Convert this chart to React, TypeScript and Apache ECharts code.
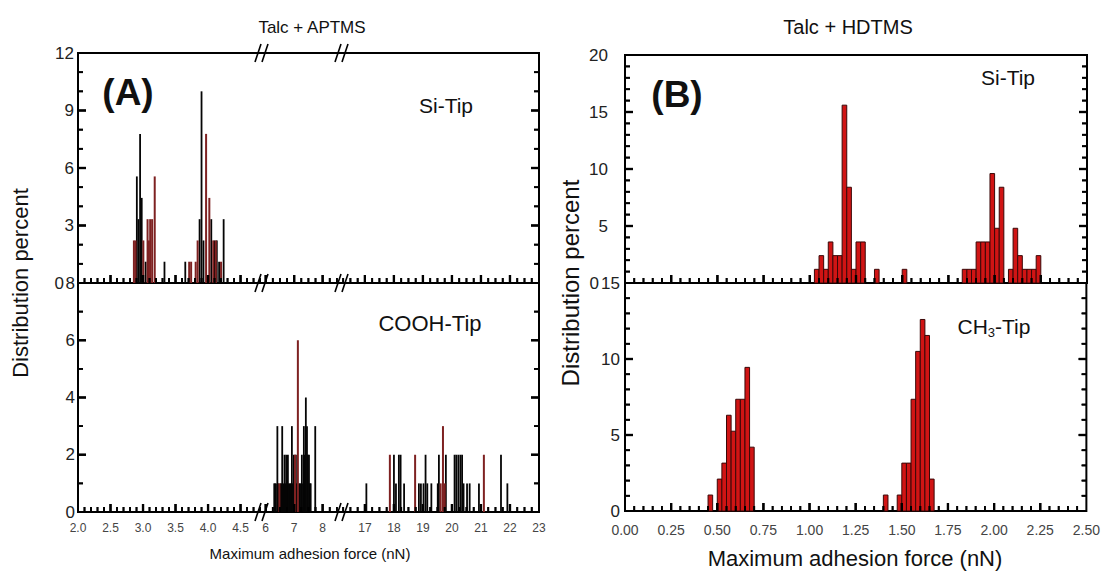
import React, { useEffect, useRef } from 'react';
import * as echarts from 'echarts';

// ================= DATA =================
// Panel A (Talc + APTMS) – Si-Tip : [force nN, distribution %]
const aSiTipBlack: number[][] = [
  [2.905, 5.56], [2.93, 3.33], [2.955, 7.78], [2.98, 4.44], [3.04, 1.11], [3.33, 1.11], [3.65, 1.11],
  [3.87, 3.33], [3.90, 10.0], [3.93, 2.22], [4.05, 3.33], [4.10, 2.22], [4.135, 2.22], [4.17, 1.11], [4.24, 3.33],
];
const aSiTipRed: number[][] = [
  [2.86, 2.22], [2.885, 2.22], [3.005, 2.22], [3.07, 3.33], [3.09, 2.22], [3.11, 3.33],
  [3.14, 3.33], [3.18, 5.56], [3.71, 1.11], [3.74, 1.11], [3.81, 1.11], [3.84, 2.22],
  [3.97, 7.78], [4.02, 4.44], [4.08, 2.22], [4.12, 2.22], [4.20, 1.11],
];
// Panel A – COOH-Tip
const aCoohBlack: number[][] = [
  [6.30, 1], [6.33, 1], [6.36, 1], [6.41, 3], [6.44, 1], [6.52, 1], [6.55, 1], [6.58, 3], [6.62, 1],
  [6.66, 2], [6.69, 1], [6.72, 2], [6.75, 1], [6.78, 2], [6.81, 1], [6.85, 1], [6.88, 1], [6.92, 3],
  [6.95, 1], [6.99, 2], [7.06, 2], [7.09, 1], [7.17, 1], [7.20, 1], [7.24, 1], [7.27, 2], [7.31, 1],
  [7.34, 3], [7.37, 2], [7.41, 4], [7.45, 3], [7.48, 2], [7.52, 2], [7.55, 1], [7.58, 1], [7.74, 3],
  [17.05, 1], [18.00, 2], [18.07, 1], [18.17, 2], [18.23, 2], [18.35, 1], [18.86, 1], [18.93, 1],
  [19.02, 1], [19.09, 2], [19.15, 1], [19.29, 1], [19.51, 1], [19.55, 2], [19.79, 2], [20.09, 2],
  [20.15, 2], [20.22, 2], [20.29, 2], [20.35, 2], [20.40, 1], [20.52, 1], [20.61, 1], [20.93, 1],
  [21.69, 2], [21.91, 1],
];
const aCoohRed: number[][] = [
  [6.48, 1], [7.03, 2], [7.13, 6], [17.86, 2], [18.73, 2], [19.61, 1], [19.69, 3], [19.75, 1], [21.10, 2],
];

// Panel B (Talc + HDTMS) – histogram bins [bin start nN, distribution %]
const binWidthB = 0.025;
const bSiTip: number[][] = [
  [1.025, 1.2], [1.05, 2.4], [1.075, 1.2], [1.10, 3.6], [1.125, 2.4], [1.15, 2.4], [1.175, 15.6],
  [1.20, 8.4], [1.225, 1.2], [1.25, 3.6], [1.275, 3.6], [1.35, 1.2], [1.50, 1.2], [1.825, 1.2],
  [1.85, 1.2], [1.875, 1.2], [1.90, 3.6], [1.925, 3.6], [1.95, 3.6], [1.975, 9.6], [2.00, 4.8],
  [2.025, 8.4], [2.075, 1.2], [2.10, 4.8], [2.125, 2.4], [2.15, 1.2], [2.175, 1.2], [2.20, 1.2], [2.225, 2.4],
];
const bCh3Tip: number[][] = [
  [0.45, 1.05], [0.50, 2.1], [0.525, 3.15], [0.55, 6.3], [0.575, 5.25], [0.60, 7.35], [0.625, 7.35],
  [0.65, 9.45], [0.675, 4.2], [1.40, 1.05], [1.475, 1.05], [1.50, 3.15], [1.525, 3.15], [1.55, 7.35],
  [1.575, 10.5], [1.60, 12.6], [1.625, 11.55], [1.65, 2.1],
];

// Axis tick labels / ranges
const aSegMajor: number[][] = [[2.0, 2.5, 3.0, 3.5, 4.0, 4.5], [6, 7, 8], [17, 18, 19, 20, 21, 22, 23]];
const aSegExtent: number[][] = [[2.0, 4.83], [5.87, 8.68], [16.21, 23]];
const aSegMinorStep = [0.1, 0.25, 0.25];
const aTopY = { min: 0, max: 12, interval: 3, minor: 3 };
const aBotY = { min: 0, max: 8, interval: 2, minor: 2 };
const bTopY = { min: 0, max: 20, interval: 5, minor: 5 };
const bBotY = { min: 0, max: 15, interval: 5, minor: 5 };
const bX = { min: 0, max: 2.5, interval: 0.25, minor: 5 };

// ================= LAYOUT =================
const FONT = '"Liberation Sans", Arial, Helvetica, sans-serif';
const A_L = 78, A_R = 539, A_T = 53, A_M = 283, A_B = 512;
const A_SEG_PX = [[78, 262], [262, 342], [342, 539]];
const A_BREAKS = [262, 342];
const B_L = 625, B_R = 1087, B_T = 55, B_M = 283, B_B = 511;
const MAJ_LEN = 8, MIN_LEN = 5;
const MAJ_W = 2.2, MIN_W = 1.8;

const GRID_BOX: number[][] = [
  [A_L, A_T, A_R, A_M], [A_L, A_M, A_R, A_B], [B_L, B_T, B_R, B_M], [B_L, B_M, B_R, B_B],
  ...[[A_T, A_M], [A_M, A_B]].flatMap(([t, b]) => A_SEG_PX.map(([l, r]) => [l, t, r, b])),
];

const near = (a: number, b: number) => Math.abs(a - b) < 1e-6;

function minorValues(seg: number) {
  const [mn, mx] = aSegExtent[seg];
  const step = aSegMinorStep[seg];
  const out: number[] = [];
  for (let k = Math.ceil(mn / step - 1e-9); k * step <= mx + 1e-9; k++) {
    const v = +(k * step).toFixed(4);
    if (!aSegMajor[seg].some((m) => near(m, v))) out.push(v);
  }
  return out;
}

function rangeTicks(r: { min: number; max: number; interval: number; minor: number }) {
  const step = r.interval / r.minor;
  const maj: number[] = [], mnr: number[] = [];
  const n = Math.round((r.max - r.min) / step);
  for (let k = 1; k < n; k++) {
    const v = +(r.min + k * step).toFixed(4);
    if (k % r.minor === 0) maj.push(v); else mnr.push(v);
  }
  return [maj, mnr];
}

type TickSpec = { kind: 'x' | 'yl' | 'yr'; g: number; values: number[]; range: number[]; xr: number[]; len: number; w: number };

function tickSpecs(): TickSpec[] {
  const out: TickSpec[] = [];
  const yPair = (g: number, r: any, xr: number[]) => {
    const [maj, mnr] = rangeTicks(r);
    for (const kind of ['yl', 'yr'] as const) {
      out.push({ kind, g, values: maj, range: [r.min, r.max], xr, len: MAJ_LEN, w: MAJ_W });
      out.push({ kind, g, values: mnr, range: [r.min, r.max], xr, len: MIN_LEN, w: MIN_W });
    }
  };
  yPair(0, aTopY, [0, 1]);
  yPair(1, aBotY, [0, 1]);
  yPair(2, bTopY, [bX.min, bX.max]);
  yPair(3, bBotY, [bX.min, bX.max]);
  const [xmaj, xmnr] = rangeTicks(bX);
  for (const g of [2, 3]) {
    out.push({ kind: 'x', g, values: xmaj, range: [bX.min, bX.max], xr: [0, 0], len: MAJ_LEN, w: MAJ_W });
    out.push({ kind: 'x', g, values: xmnr, range: [bX.min, bX.max], xr: [0, 0], len: MIN_LEN, w: MIN_W });
  }
  for (let p = 0; p < 2; p++) {
    for (let s = 0; s < 3; s++) {
      const g = 4 + p * 3 + s;
      const [mn, mx] = aSegExtent[s];
      out.push({ kind: 'x', g, values: aSegMajor[s].filter((v) => !near(v, mn) && !near(v, mx)), range: [mn, mx], xr: [0, 0], len: MAJ_LEN, w: MAJ_W });
      out.push({ kind: 'x', g, values: minorValues(s), range: [mn, mx], xr: [0, 0], len: MIN_LEN, w: MIN_W });
    }
  }
  return out;
}

// tick marks as a custom series on the grid's own axes
function tickSeries(t: TickSpec) {
  const edge = t.kind === 'x' ? 0 : t.kind === 'yl' ? t.xr[0] : t.xr[1];
  const data = t.values.map((v) => (t.kind === 'x' ? [v, edge] : [edge, v]));
  return {
    type: 'custom', xAxisIndex: t.g, yAxisIndex: t.g, data, encode: { x: 0, y: 1 }, z: 8,
    renderItem: (_p: any, api: any) => {
      const p = api.coord([api.value(0), api.value(1)]);
      let shape;
      if (t.kind === 'x') shape = { x: p[0] - t.w / 2, y: p[1] - t.len, width: t.w, height: t.len };
      else if (t.kind === 'yl') shape = { x: p[0], y: p[1] - t.w / 2, width: t.len, height: t.w };
      else shape = { x: p[0] - t.len, y: p[1] - t.w / 2, width: t.len, height: t.w };
      return { type: 'rect', shape, style: { fill: '#000' } };
    },
  };
}

function spikeSeries(data: number[][], xi: number, yi: number, color: string, w: number) {
  return {
    type: 'custom', xAxisIndex: xi, yAxisIndex: yi, data, encode: { x: 0, y: 1 }, z: 3,
    renderItem: (_p: any, api: any) => {
      const x = api.value(0), y = api.value(1);
      const top = api.coord([x, y]);
      const base = api.coord([x, 0]);
      return { type: 'rect', shape: { x: top[0] - w / 2, y: top[1], width: w, height: base[1] - top[1] }, style: { fill: color } };
    },
  };
}

function histSeries(bins: number[][], xi: number, yi: number) {
  const data = bins.map(([s, v]) => [s, +(s + binWidthB).toFixed(4), v]);
  return {
    type: 'custom', xAxisIndex: xi, yAxisIndex: yi, data, encode: { x: [0, 1], y: 2 }, z: 3,
    renderItem: (_p: any, api: any) => {
      const p0 = api.coord([api.value(0), api.value(2)]);
      const p1 = api.coord([api.value(1), 0]);
      return {
        type: 'rect',
        shape: { x: p0[0], y: p0[1], width: p1[0] - p0[0], height: p1[1] - p0[1] },
        style: { fill: '#d01414', stroke: '#3a0808', lineWidth: 1 },
      };
    },
  };
}

function frameY(gi: number, r: any, margin: number, fontSize: number, zeroPad: number) {
  return {
    type: 'value', gridIndex: gi, min: r.min, max: r.max, interval: r.interval, position: 'left',
    axisLine: { show: false }, splitLine: { show: false }, axisTick: { show: false },
    axisLabel: {
      show: true, margin, fontSize, color: '#222', fontFamily: FONT,
      formatter: (v: number) => (v === 0 && zeroPad > 0 ? '{z|0}' : String(v)),
      rich: { z: { fontSize, fontFamily: FONT, color: '#222', padding: [0, zeroPad, 0, 0] } },
    },
  };
}

function baseGraphic() {
  const graphic: any[] = [];
  const txt = (x: number, y: number, text: string, size: number, extra: any = {}) => ({
    type: 'text', x, y, z: 10,
    style: { text, fontSize: size, fontFamily: FONT, fill: '#111', align: 'center', verticalAlign: 'middle', ...extra.style },
    ...extra.el,
  });
  graphic.push(txt(312, 27, 'Talc + APTMS', 17));
  graphic.push(txt(848, 27, 'Talc + HDTMS', 20));
  graphic.push(txt(128, 92, '(A)', 37, { style: { fontWeight: 'bold' } }));
  graphic.push(txt(677, 94, '(B)', 37, { style: { fontWeight: 'bold' } }));
  graphic.push(txt(446, 105, 'Si-Tip', 21));
  graphic.push(txt(430, 323, 'COOH-Tip', 22));
  graphic.push(txt(1008, 77, 'Si-Tip', 21));
  graphic.push(txt(994, 326, 'CH{sub|3}-Tip', 21, {
    style: { rich: { sub: { fontSize: 13, lineHeight: 12, verticalAlign: 'bottom', fontFamily: FONT, fill: '#111' } }, lineHeight: 26 },
  }));
  graphic.push(txt(20, 283, 'Distribution percent', 22, { el: { rotation: Math.PI / 2 } }));
  graphic.push(txt(570, 283, 'Distribution percent', 24, { el: { rotation: Math.PI / 2 } }));
  graphic.push(txt(310, 553, 'Maximum adhesion force (nN)', 15));
  graphic.push(txt(855, 558, 'Maximum adhesion force (nN)', 22));

  for (const bx of A_BREAKS) {
    for (const by of [A_T, A_M, A_B]) {
      for (const dx of [-4, 3]) {
        graphic.push({
          type: 'line', z: 12,
          shape: { x1: bx + dx - 3, y1: by + 9, x2: bx + dx + 3, y2: by - 9 },
          style: { stroke: '#000', lineWidth: 1.6 },
        });
      }
    }
  }
  return graphic;
}

function buildOption() {
  const grid: any[] = [];
  const xAxis: any[] = [];
  const yAxis: any[] = [];
  const series: any[] = [];

  GRID_BOX.forEach(([l, t, r, b], i) => {
    grid.push({
      left: l, top: t, width: r - l, height: b - t, show: i < 4, borderColor: '#000', borderWidth: 2,
      backgroundColor: 'transparent',
    });
  });

  xAxis.push({ type: 'value', gridIndex: 0, min: 0, max: 1, show: false }); // 0
  xAxis.push({ type: 'value', gridIndex: 1, min: 0, max: 1, show: false }); // 1
  const bAxis = (gi: number, labels: boolean) => ({
    type: 'value', gridIndex: gi, min: bX.min, max: bX.max, interval: bX.interval, position: 'bottom',
    axisLine: { show: false }, splitLine: { show: false }, axisTick: { show: false },
    axisLabel: { show: labels, margin: 12, fontSize: 14, color: '#444', fontFamily: FONT, formatter: (v: number) => v.toFixed(2) },
  });
  xAxis.push(bAxis(2, false)); // 2
  xAxis.push(bAxis(3, true)); // 3
  for (let p = 0; p < 2; p++) {
    for (let s = 0; s < 3; s++) {
      xAxis.push({
        type: 'value', gridIndex: 4 + p * 3 + s, min: aSegExtent[s][0], max: aSegExtent[s][1], position: 'bottom',
        axisLine: { show: false }, splitLine: { show: false }, axisTick: { show: false },
        axisLabel: {
          show: p === 1, customValues: aSegMajor[s], margin: 10, fontSize: 12, color: '#444', fontFamily: FONT,
          formatter: (v: number) => (s === 0 ? v.toFixed(1) : String(Math.round(v))),
        },
      }); // 4..9
    }
  }

  yAxis.push(frameY(0, aTopY, 4, 17, 10)); // 0
  yAxis.push(frameY(1, aBotY, 3, 17, 0)); // 1
  yAxis.push(frameY(2, bTopY, 17, 17, 9)); // 2
  yAxis.push(frameY(3, bBotY, 5, 17, 0)); // 3
  for (let p = 0; p < 2; p++) {
    for (let s = 0; s < 3; s++) {
      const r = p === 0 ? aTopY : aBotY;
      yAxis.push({ type: 'value', gridIndex: 4 + p * 3 + s, min: r.min, max: r.max, show: false }); // 4..9
    }
  }

  series.push(histSeries(bSiTip, 2, 2));
  series.push(histSeries(bCh3Tip, 3, 3));
  const panels = [[aSiTipBlack, aSiTipRed], [aCoohBlack, aCoohRed]];
  for (let p = 0; p < 2; p++) {
    for (let s = 0; s < 3; s++) {
      const [mn, mx] = aSegExtent[s];
      const inSeg = (d: number[]) => d[0] >= mn && d[0] <= mx;
      const g = 4 + p * 3 + s;
      series.push(spikeSeries(panels[p][0].filter(inSeg), g, g, '#050505', 1.8));
      series.push(spikeSeries(panels[p][1].filter(inSeg), g, g, '#7e2121', 2));
    }
  }
  for (const t of tickSpecs()) series.push(tickSeries(t));

  return { animation: false, backgroundColor: '#fff', grid, xAxis, yAxis, series, graphic: baseGraphic() };
}

function axisPixel(chart: any, t: TickSpec, v: number): number {
  const finder = t.kind === 'x' ? { xAxisIndex: t.g } : { yAxisIndex: t.g };
  let px: any = null;
  try { px = chart.convertToPixel(finder, v); } catch (e) { px = null; }
  if (Array.isArray(px)) px = t.kind === 'x' ? px[0] : px[1];
  if (typeof px === 'number' && isFinite(px)) return px;
  const [l, tp, r, b] = GRID_BOX[t.g];
  const f = (v - t.range[0]) / (t.range[1] - t.range[0]);
  return t.kind === 'x' ? l + f * (r - l) : b - f * (b - tp);
}

export default function App() {
  const ref = useRef<HTMLDivElement>(null);
  useEffect(() => {
    const chart = echarts.init(ref.current!, null, { renderer: 'svg' });
    chart.setOption(buildOption() as any);
    const ticks: any[] = [];
    for (const t of tickSpecs()) {
      const [l, , r, b] = GRID_BOX[t.g];
      for (const v of t.values) {
        const q = axisPixel(chart, t, v);
        let shape;
        if (t.kind === 'x') shape = { x1: q, y1: b, x2: q, y2: b - t.len };
        else if (t.kind === 'yl') shape = { x1: l, y1: q, x2: l + t.len, y2: q };
        else shape = { x1: r, y1: q, x2: r - t.len, y2: q };
        ticks.push({ type: 'line', z: 11, silent: true, shape, style: { stroke: '#000', lineWidth: t.w } });
      }
    }
    chart.setOption({ graphic: [...baseGraphic(), ...ticks] } as any);
    return () => chart.dispose();
  }, []);
  return (
    <div
      ref={ref}
      style={{ position: 'fixed', left: 0, top: 0, width: 1103, height: 572, background: '#fff' }}
    />
  );
}
